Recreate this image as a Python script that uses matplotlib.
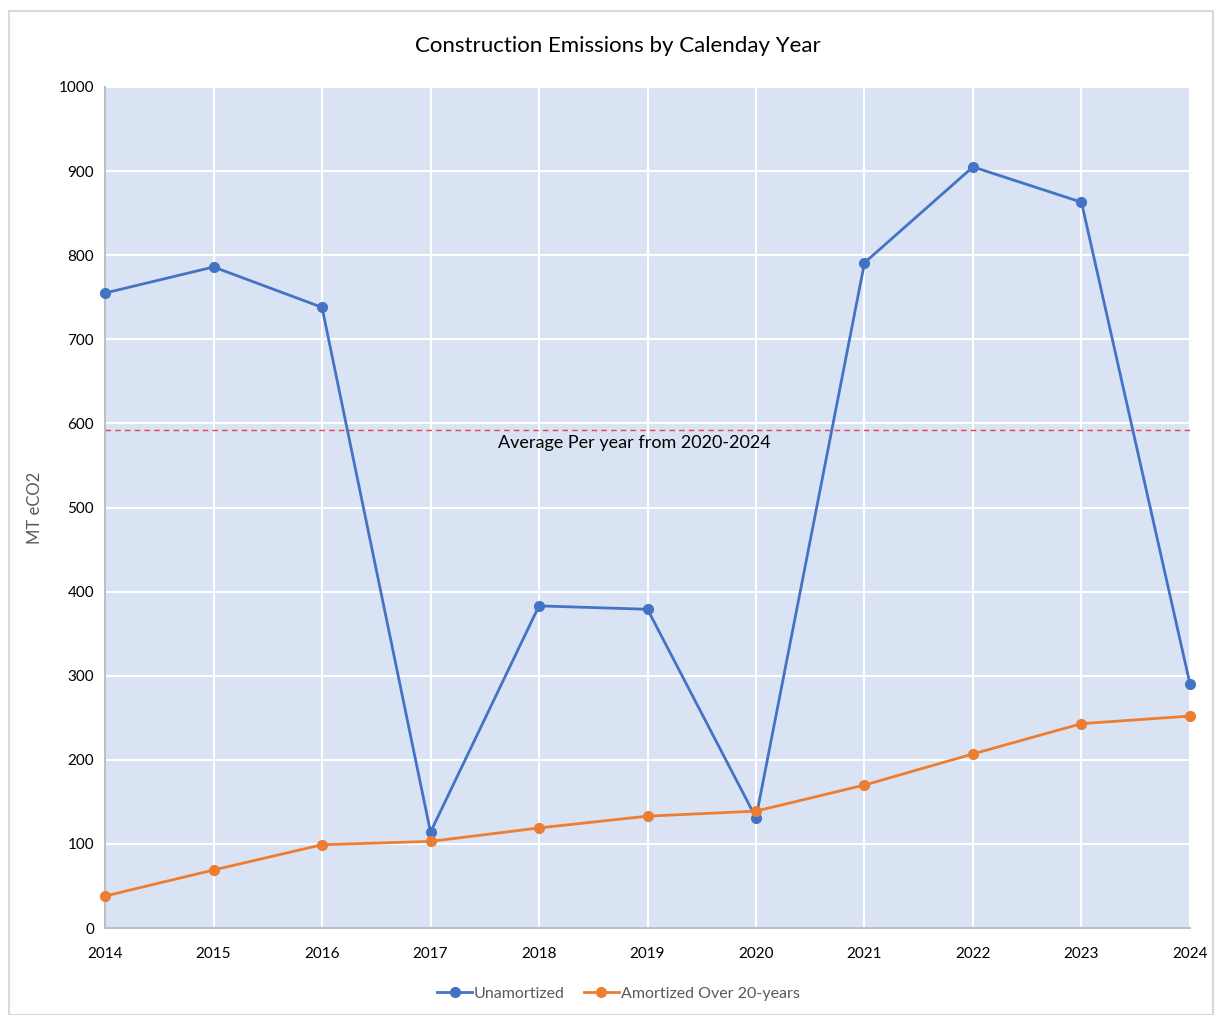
import matplotlib
matplotlib.use("Agg")
import matplotlib.pyplot as plt
from matplotlib.patches import Rectangle

plt.rcParams["font.family"] = ["Lato", "DejaVu Sans"]

# Données
annees = [2014, 2015, 2016, 2017, 2018, 2019, 2020, 2021, 2022, 2023, 2024]
non_amorti = [755, 786, 738, 114, 383, 379, 131, 791, 905, 863, 290]
amorti_20ans = [38, 69, 99, 103, 119, 133, 139, 170, 207, 243, 252]
moyenne_2020_2024 = 592

bleu = "#4472C4"
orange = "#ED7D31"

fig = plt.figure(figsize=(12.17, 10.15), dpi=100)
ax = fig.add_axes([0.0863, 0.0857, 0.8915, 0.8286])

# cadre gris autour du graphique
fig.patches.append(Rectangle((0.007, 0.0), 0.99, 0.989, transform=fig.transFigure,
                             fill=False, edgecolor="#D9D9D9", linewidth=1.5))

ax.set_facecolor("#DAE3F3")
ax.plot(annees, non_amorti, color=bleu, linewidth=2, marker="o", markersize=7,
        label="Unamortized", zorder=3, clip_on=False)
ax.plot(annees, amorti_20ans, color=orange, linewidth=2, marker="o", markersize=7,
        label="Amortized Over 20-years", zorder=3, clip_on=False)

ax.axhline(moyenne_2020_2024, color="#E0474C", linestyle=(0, (4, 3)), linewidth=1, zorder=2)
ax.text(2018.88, moyenne_2020_2024 - 15, "Average Per year from 2020-2024",
        fontsize=13, color="black", va="center", ha="center")

ax.set_xlim(2014, 2024)
ax.set_ylim(0, 1000)
ax.set_xticks(annees)
ax.set_yticks(range(0, 1001, 100))
ax.tick_params(length=0, labelsize=11, pad=8)
ax.tick_params(axis="x", pad=14)
ax.grid(color="white", linewidth=1.5)
ax.set_axisbelow(True)
for cote in ["top", "right"]:
    ax.spines[cote].set_visible(False)
for cote in ["left", "bottom"]:
    ax.spines[cote].set_color("#BFBFBF")
    ax.spines[cote].set_linewidth(1.5)

ax.set_ylabel("MT eCO2", fontsize=12, color="#595959", labelpad=0)
ax.yaxis.set_label_coords(-0.057, 0.5)
fig.text(0.508, 0.955, "Construction Emissions by Calenday Year", fontsize=16,
         ha="center", va="center")

fig.legend(loc="lower center", bbox_to_anchor=(0.508, 0.0), ncol=2, frameon=False,
           fontsize=11.5, labelcolor="#595959", handlelength=2.2, columnspacing=1.2,
           handletextpad=0.1)

plt.savefig("out.png", dpi=100)
